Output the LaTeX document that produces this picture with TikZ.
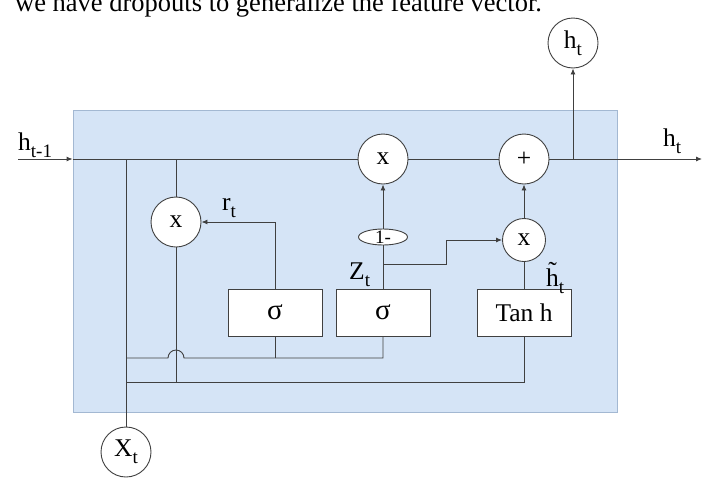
\documentclass[tikz,border=0pt]{standalone}
\usepackage{fontspec}
\setmainfont{Liberation Serif}
\usetikzlibrary{arrows.meta,shapes.geometric}
\definecolor{cellfill}{HTML}{D5E4F6}
\definecolor{celledge}{HTML}{A3B8D2}
\definecolor{linec}{HTML}{404040}
\newcommand{\lbl}{\fontsize{25.5}{25.5}\selectfont}
\newcommand{\sbx}[1]{\raisebox{-0.28em}{\fontsize{19}{19}\selectfont #1}}
\begin{document}
\begin{tikzpicture}[x=1pt,y=-1pt,
  wire/.style={draw=linec,line width=0.9pt},
  arr/.style={wire,-{Latex[length=6pt,width=5pt]}},
  opc/.style={circle,draw=linec,line width=0.9pt,fill=white,minimum size=50pt,inner sep=0pt,font=\lbl},
  opsmall/.style={opc,minimum size=43pt},
  gatebox/.style={rectangle,draw=linec,line width=0.9pt,fill=white,minimum width=94pt,minimum height=47pt,inner sep=0pt,font=\lbl},
  onebox/.style={ellipse,draw=linec,line width=0.9pt,fill=white,minimum width=49pt,minimum height=16pt,inner sep=0pt,font=\fontsize{19}{19}\selectfont},
  lab/.style={anchor=base west,inner sep=0pt,font=\lbl}
]
\useasboundingbox (0,0) rectangle (709,477);
\node[anchor=base west,inner sep=0pt,font=\fontsize{26.5}{26.5}\selectfont] (cap) at (15,11) {we have dropouts to generalize the feature vector.};
% cell
\node[rectangle,draw=celledge,line width=0.8pt,fill=cellfill,minimum width=544pt,minimum height=302pt,inner sep=0pt] (cell) at (345,261) {};
% nodes
\node[opc] (xc1) at (383,159) {x};
\node[opc] (plus) at (524,159) {+};
\node[opc] (xr) at (176,222) {x};
\node[opsmall] (xh) at (524,240) {x};
\node[opc] (hto) at (573,43) {h\sbx{t}};
\node[opc] (xt) at (126,452) {X\sbx{t}};
\node[onebox] (one) at (383,237) {\raisebox{-6.2pt}[0pt][0pt]{1-}};
\node[gatebox] (sig1) at (275,312.5) {{\fontsize{29}{29}\selectfont σ}};
\node[gatebox] (sig2) at (383,312.5) {{\fontsize{29}{29}\selectfont σ}};
\node[gatebox] (tanh) at (524,312.5) {Tan h};
% coordinates
\coordinate (hin) at (18,159);
\coordinate (hout) at (702,159);
\coordinate (mA) at (126,358);
\coordinate (mB) at (383,358);
\coordinate (bA) at (126,382);
\coordinate (bB) at (524,382);
\coordinate (z1) at (383,264);
\coordinate (z2) at (446,264);
\coordinate (z3) at (446,240);
% labels
\node[lab] (lhin) at (18,150) {h\sbx{t-1}};
\node[lab] (lhout) at (663,146) {h\sbx{t}};
\node[lab] (lr) at (222,210) {r\sbx{t}};
\node[lab] (lz) at (349,279) {Z\sbx{t}};
\node[lab] (lht) at (546,286) {\~{h}\sbx{t}};
% main line
\draw[arr] (hin) -- (xc1 -| cell.west);
\draw[wire] (xc1 -| cell.west) -- (xc1.west);
\draw[wire] (xc1.east) -- (plus.west);
\draw[arr] (plus.east) -- (hout);
\draw[arr] (hto |- plus) -- (hto.south);
% verticals
\draw[wire] (xt |- xc1) -- (xt.north);
\draw[wire] (xr |- xc1) -- (xr.north);
\draw[wire] (xr.south) -- (xr |- bA);
% bottom line
\draw[wire] (bA) -- (bB) -- (tanh.south);
% middle line with hop
\draw[wire] (mA) -- ([xshift=-8pt]xr |- mA) arc[start angle=180,end angle=0,radius=8pt] -- (mB) -- (sig2.south);
\draw[wire] (sig1.south) -- (sig1 |- mA);
% r gate
\draw[arr] (sig1.north) |- (xr.east);
% z gate
\draw[wire] (sig2.north) -- (one.south);
\draw[arr] (one.north) -- (xc1.south);
\draw[arr] (z1) -- (z2) -- (z3) -- (xh.west);
% candidate
\draw[wire] (tanh.north) -- (xh.south);
\draw[arr] (xh.north) -- (plus.south);
\end{tikzpicture}
\end{document}
